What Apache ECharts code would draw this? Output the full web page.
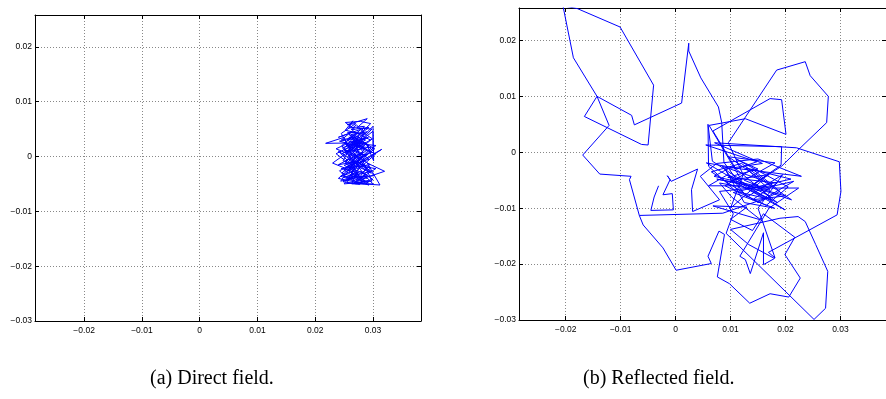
<!DOCTYPE html>
<html><head><meta charset="utf-8">
<script src="https://cdn.jsdelivr.net/npm/echarts@6/dist/echarts.min.js"></script>
<style>html,body{margin:0;padding:0;background:#fff}#c{width:886px;height:399px}</style>
</head><body><div id="c"></div>
<script>
const xTicks = [-0.02, -0.01, 0, 0.01, 0.02, 0.03];
const yTicks = [-0.03, -0.02, -0.01, 0, 0.01, 0.02];
const xRange = [-0.0285, 0.0383];
const yRange = [-0.03, 0.0258];
const captions = ['(a) Direct field.', '(b) Reflected field.'];

const directPath = [
[0.0262,0.0010],[0.0245,0.0042],[0.0270,0.0060],[0.0255,0.0058],[0.0290,0.0069],[0.0272,0.0052],[0.0298,0.0050],[0.0280,0.0030],[0.0300,0.0046],[0.0301,-0.0008],
[0.0288,0.0025],[0.0218,0.0024],[0.0250,0.0035],[0.0268,-0.0010],[0.0240,-0.0015],[0.0283,0.0008],[0.0259,0.0040],[0.0303,0.0014],[0.0246,-0.0030],[0.0278,-0.0042],
[0.0320,-0.0027],[0.0290,-0.0012],[0.0312,-0.0052],[0.0255,-0.0048],[0.0268,-0.0020],[0.0236,0.0005],[0.0292,0.0035],[0.0262,0.0025],[0.0305,0.0020],[0.0240,-0.0040],
[0.0284,-0.0050],[0.0258,-0.0005],[0.0296,-0.0030],[0.0250,0.0015],[0.0275,0.0045],[0.0246,0.0020],[0.0290,-0.0040],[0.0262,-0.0035],[0.0305,0.0005],[0.0270,0.0018],
[0.0230,-0.0012],[0.0260,-0.0025],[0.0315,0.0013],[0.0280,-0.0008],[0.0250,-0.0050],[0.0298,-0.0045],[0.0265,0.0032],[0.0242,0.0028],[0.0285,0.0015],[0.0255,0.0008],
[0.0300,0.0055],[0.0300,0.0010],[0.0272,0.0038],[0.0248,-0.0008],[0.0288,-0.0025],[0.0258,-0.0042],[0.0275,-0.0030],[0.0245,-0.0022],[0.0295,-0.0015],[0.0265,0.0005],
[0.0283,0.0040],[0.0252,0.0048],[0.0265,0.0065],[0.0258,0.0052],[0.0285,0.0055],[0.0270,0.0028],[0.0293,0.0020],[0.0260,-0.0012],[0.0240,0.0010],[0.0278,-0.0018],
[0.0305,-0.0022],[0.0270,-0.0045],[0.0248,-0.0035],[0.0292,-0.0048],[0.0262,-0.0030],[0.0282,0.0002],[0.0250,0.0025],[0.0276,0.0012],[0.0296,0.0030],[0.0266,0.0045],
[0.0240,0.0035],[0.0280,0.0050],[0.0255,0.0030],[0.0298,0.0008],[0.0272,-0.0005],[0.0244,-0.0045],[0.0286,-0.0035],[0.0300,-0.0050],[0.0263,-0.0050],[0.0275,-0.0022],
[0.0255,-0.0018],[0.0293,-0.0005],[0.0268,0.0015],[0.0246,0.0005],[0.0287,0.0030],[0.0262,0.0040],[0.0290,0.0045],[0.0257,0.0020],[0.0281,-0.0012],[0.0302,-0.0035],
[0.0268,-0.0038],[0.0250,-0.0025],[0.0275,0.0005],[0.0260,0.0015],[0.0278,0.0022],[0.0252,-0.0010],[0.0285,-0.0045],[0.0270,-0.0050],[0.0296,-0.0020],[0.0264,-0.0008],
[0.0290,0.0012],[0.0258,0.0035],[0.0274,0.0033],
[0.0266,0.0022],[0.0251,0.0012],[0.0279,-0.0003],[0.0262,-0.0016],[0.0287,-0.0008],[0.0272,0.0010],[0.0259,-0.0028],[0.0282,-0.0038],[0.0266,-0.0049],[0.0300,-0.0042],
[0.0279,-0.0027],[0.0253,-0.0038],[0.0242,-0.0026],[0.0268,-0.0012],[0.0247,0.0016],[0.0274,0.0025],[0.0256,0.0044],[0.0286,0.0042],[0.0271,0.0058],[0.0262,0.0049],
[0.0293,0.0053],[0.0269,0.0034],[0.0284,0.0019],[0.0254,0.0023],[0.0236,0.0014],[0.0264,0.0002],[0.0291,0.0004],[0.0276,-0.0013],[0.0297,-0.0027],[0.0270,-0.0034],
[0.0248,-0.0046],[0.0277,-0.0051],[0.0290,-0.0034],[0.0260,-0.0020],[0.0284,-0.0017],[0.0257,0.0000],[0.0281,0.0027],[0.0263,0.0034],[0.0245,0.0030],[0.0268,0.0050],
[0.0252,0.0062],[0.0278,0.0064],[0.0296,0.0060],[0.0281,0.0045],[0.0299,0.0032],[0.0275,0.0018],[0.0297,0.0016],[0.0273,-0.0008],[0.0250,-0.0016],[0.0266,-0.0026],
[0.0244,-0.0036],[0.0265,-0.0044],[0.0293,-0.0052],[0.0275,-0.0041],[0.0289,-0.0020],[0.0261,0.0008],[0.0277,0.0030],[0.0258,0.0026]
];

const reflectedPath = [
[-0.0031,-0.0060],[-0.0039,-0.0080],[-0.0045,-0.0104],[-0.0004,-0.0103],[-0.0006,-0.0074],[-0.0023,-0.0076],[-0.0010,-0.0049],[-0.0015,-0.0042],[-0.0008,-0.0052],[0.0040,-0.0030],
[0.0029,-0.0067],[0.0031,-0.0106],[0.0080,-0.0085],[0.0045,-0.0043],[0.0075,-0.0020],
[0.0150,-0.0012],[0.0229,-0.0043],[0.0120,-0.0030],[0.0056,-0.0019],[0.0140,-0.0068],[0.0185,-0.0090],[0.0104,-0.0025],[0.0070,-0.0043],[0.0163,-0.0064],[0.0215,-0.0052],
[0.0170,-0.0078],[0.0095,-0.0040],[0.0060,-0.0060],[0.0120,-0.0060],[0.0199,-0.0103],[0.0110,-0.0047],[0.0088,-0.0018],[0.0087,-0.0001],
[0.0084,0.0053],[0.0078,0.0081],[0.0046,0.0133],[0.0024,0.0181],[0.0024,0.0195],[0.0011,0.0088],[-0.0075,0.0049],[-0.0080,0.0066],[-0.0143,0.0100],[-0.0166,0.0064],
[-0.0062,0.0014],[-0.0050,0.0013],[-0.0040,0.0120],[-0.0101,0.0224],[-0.0179,0.0257],[-0.0205,0.0262],[-0.0186,0.0169],[-0.0143,0.0100],[-0.0121,0.0048],[-0.0169,-0.0005],
[-0.0138,-0.0039],[-0.0081,-0.0043],[-0.0084,-0.0049],[-0.0066,-0.0113],[-0.0059,-0.0130],[-0.0023,-0.0171],[0.0001,-0.0211],[0.0065,-0.0199],[0.0059,-0.0186],[0.0079,-0.0141],
[0.0089,-0.0147],[0.0076,-0.0223],[0.0098,-0.0235],[0.0135,-0.0270],[0.0172,-0.0253],[0.0206,-0.0259],[0.0227,-0.0225],[0.0199,-0.0183],[0.0217,-0.0152],
[0.0160,-0.0110],[0.0140,-0.0140],[0.0100,-0.0120],[0.0130,-0.0098],[0.0068,-0.0096],[0.0155,-0.0121],[0.0102,-0.0080],[0.0080,-0.0055],[0.0165,-0.0070],[0.0211,-0.0085],
[0.0150,-0.0045],[0.0096,-0.0008],[0.0181,-0.0019],[0.0125,-0.0050],[0.0160,-0.0064],[0.0224,-0.0064],[0.0170,-0.0100],[0.0117,-0.0186],[0.0127,-0.0192],[0.0136,-0.0217],
[0.0160,-0.0144],[0.0160,-0.0201],[0.0180,-0.0190],[0.0133,-0.0165],[0.0100,-0.0138],[0.0190,-0.0118],
[0.0223,-0.0115],[0.0236,-0.0124],[0.0255,-0.0165],[0.0277,-0.0213],[0.0273,-0.0279],[0.0252,-0.0299],[0.0092,-0.0145],
[0.0105,-0.0110],[0.0080,-0.0070],[0.0175,-0.0060],[0.0120,-0.0020],[0.0065,-0.0035],[0.0150,-0.0090],[0.0190,-0.0070],[0.0140,-0.0030],[0.0090,-0.0060],[0.0165,-0.0095],
[0.0205,-0.0062],[0.0110,-0.0012],
[0.0150,-0.0030],[0.0095,-0.0045],[0.0185,-0.0055],[0.0140,-0.0085],[0.0200,-0.0078],[0.0115,-0.0055],[0.0075,-0.0048],[0.0172,-0.0068],[0.0128,-0.0028],[0.0210,-0.0048],
[0.0165,-0.0058],[0.0105,-0.0072],[0.0180,-0.0100],[0.0125,-0.0090],[0.0090,-0.0030],[0.0158,-0.0020],
[0.0071,0.0017],[0.0220,0.0008],[0.0298,-0.0017],[0.0301,-0.0070],[0.0294,-0.0112],[0.0169,-0.0179],[0.0181,-0.0189],
[0.0150,-0.0100],[0.0195,-0.0040],[0.0130,-0.0080],[0.0085,-0.0025],[0.0158,-0.0050],[0.0100,-0.0100],[0.0123,-0.0040],
[0.0096,0.0017],[0.0184,0.0147],[0.0236,0.0162],[0.0245,0.0137],[0.0278,0.0100],[0.0275,0.0053],[0.0223,0.0004],[0.0193,-0.0025],
[0.0145,-0.0055],[0.0175,-0.0085],[0.0110,-0.0070],[0.0060,-0.0025],[0.0059,0.0050],[0.0067,-0.0016],[0.0120,-0.0050],
[0.0061,0.0048],[0.0127,0.0060],[0.0201,0.0032],[0.0193,0.0094],[0.0172,0.0096],[0.0068,0.0038],[0.0110,-0.0030],[0.0148,-0.0017],
[0.0055,0.0013],[0.0193,0.0010],[0.0192,-0.0023],[0.0130,-0.0065],[0.0170,-0.0040],[0.0100,-0.0050],[0.0165,-0.0082],[0.0086,-0.0109],[-0.0066,-0.0113]
];

function fmt(v) {
  const r = Math.round(v * 100) / 100;
  if (r === 0) return '0';
  return (r < 0 ? '\u2212' : '') + Math.abs(r).toString();
}

const lineBlack = { color: '#000', width: 1 };
const grids = [
  { left: 35, top: 15, width: 386, height: 306 },
  { left: 519, top: 8, width: 374, height: 312 }
];

const xAxis = [], yAxis = [];
grids.forEach((g, gi) => {
  xAxis.push({
    gridIndex: gi, type: 'value', position: 'bottom', min: xRange[0], max: xRange[1],
    axisLine: { show: true, onZero: false, lineStyle: lineBlack },
    axisTick: { show: true, inside: true, length: 4, customValues: xTicks, lineStyle: lineBlack },
    axisLabel: { show: true, customValues: xTicks, formatter: fmt, fontSize: 8.5, color: '#000', margin: 5, fontFamily: 'Liberation Sans' },
    splitLine: { show: true, lineStyle: { color: '#888', type: [1, 2], width: 1 } }
  });
  xAxis.push({
    gridIndex: gi, type: 'value', position: 'top', min: xRange[0], max: xRange[1],
    axisLine: { show: true, onZero: false, lineStyle: lineBlack },
    axisTick: { show: true, inside: true, length: 4, customValues: xTicks, lineStyle: lineBlack },
    axisLabel: { show: false }, splitLine: { show: false }
  });
  yAxis.push({
    gridIndex: gi, type: 'value', position: 'left', min: yRange[0], max: yRange[1],
    axisLine: { show: true, onZero: false, lineStyle: lineBlack },
    axisTick: { show: true, inside: true, length: 4, customValues: yTicks, lineStyle: lineBlack },
    axisLabel: { show: true, customValues: yTicks, formatter: fmt, fontSize: 8.5, color: '#000', margin: 3, fontFamily: 'Liberation Sans' },
    splitLine: { show: true, lineStyle: { color: '#888', type: [1, 2], width: 1 } }
  });
  yAxis.push({
    gridIndex: gi, type: 'value', position: 'right', min: yRange[0], max: yRange[1],
    axisLine: { show: true, onZero: false, lineStyle: lineBlack },
    axisTick: { show: true, inside: true, length: 4, customValues: yTicks, lineStyle: lineBlack },
    axisLabel: { show: false }, splitLine: { show: false }
  });
});

const blueLine = { color: '#0000ff', width: 1 };
const chart = echarts.init(document.getElementById('c'), null, { renderer: 'canvas' });
chart.setOption({
  animation: false,
  backgroundColor: '#fff',
  color: ['#0000ff'],
  grid: grids,
  xAxis: xAxis,
  yAxis: yAxis,
  series: [
    { type: 'line', xAxisIndex: 0, yAxisIndex: 0, data: directPath, showSymbol: false, symbol: 'none', clip: true,
      color: '#0000ff', itemStyle: { color: '#0000ff' }, lineStyle: blueLine, emphasis: { disabled: true } },
    { type: 'line', xAxisIndex: 2, yAxisIndex: 2, data: reflectedPath, showSymbol: false, symbol: 'none', clip: true,
      color: '#0000ff', itemStyle: { color: '#0000ff' }, lineStyle: blueLine, emphasis: { disabled: true } }
  ],
  graphic: [
    { type: 'text', left: 150, top: 369, style: { text: captions[0], font: '20px "Liberation Serif"', fill: '#000' } },
    { type: 'text', left: 583, top: 369, style: { text: captions[1], font: '20px "Liberation Serif"', fill: '#000' } }
  ]
});
</script>
</body></html>
